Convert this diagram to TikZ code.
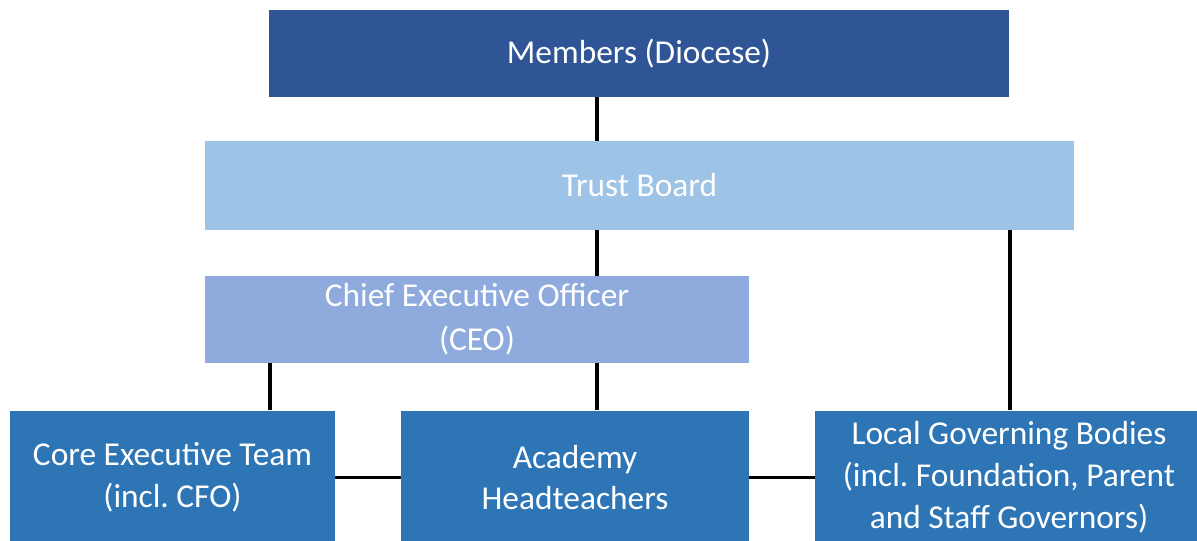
\documentclass[tikz,border=0pt]{standalone}
\usepackage{fontspec}
\setmainfont{Carlito}
\usepackage{xcolor}
\usepackage{tikz}
\frenchspacing

\definecolor{membersblue}{HTML}{2F5597}
\definecolor{trustblue}{HTML}{9DC3E6}
\definecolor{ceoblue}{HTML}{8FAADC}
\definecolor{teamblue}{HTML}{2E75B6}

\begin{document}
\begin{tikzpicture}[
    box/.style={rectangle, inner sep=0pt, text=white, align=center,
      font=\fontsize{19}{23.8}\selectfont},
    link/.style={line width=1.9pt, black}
  ]
        \useasboundingbox (0,0) rectangle (23.94,-10.8);

        % Draw boxes
        \node[box, fill=membersblue, minimum width=14.8cm, minimum height=1.74cm] (members) at (12.78,-1.07) {Members (Diocese)};
        \node[box, fill=trustblue, minimum width=17.38cm, minimum height=1.78cm] (trust) at (12.79,-3.71) {Trust Board};
        \node[box, fill=ceoblue, minimum width=10.88cm, minimum height=1.74cm, font=\fontsize{19}{25}\selectfont] (ceo) at (9.54,-6.39) {Chief Executive Officer\\(CEO)};
        \node[box, fill=teamblue, minimum width=6.5cm, minimum height=2.68cm] (core) at (3.45,-9.55) {Core Executive Team\\(incl. CFO)};
        \node[box, fill=teamblue, minimum width=6.96cm, minimum height=2.68cm] (heads) at (11.5,-9.55) {Academy\\Headteachers};
        \node[box, fill=teamblue, minimum width=7.76cm, minimum height=2.68cm] (lgb) at (20.18,-9.55) {Local Governing Bodies\\(incl. Foundation, Parent\\and Staff Governors)};

        % Draw links
        \draw[link] (members.south -| 11.94,0) -- (trust.north -| 11.94,0);
        \draw[link] (trust.south -| 11.94,0) -- (ceo.north -| 11.94,0);
        \draw[link] (ceo.south -| 11.94,0) -- (heads.north -| 11.94,0);
        \draw[link] (ceo.south -| 5.4,0) -- (core.north -| 5.4,0);
        \draw[link] (trust.south -| 20.2,0) -- (lgb.north -| 20.2,0);
        \draw[link] (core.east) -- (heads.west);
        \draw[link] (heads.east) -- (lgb.west);
    \end{tikzpicture}
\end{document}
